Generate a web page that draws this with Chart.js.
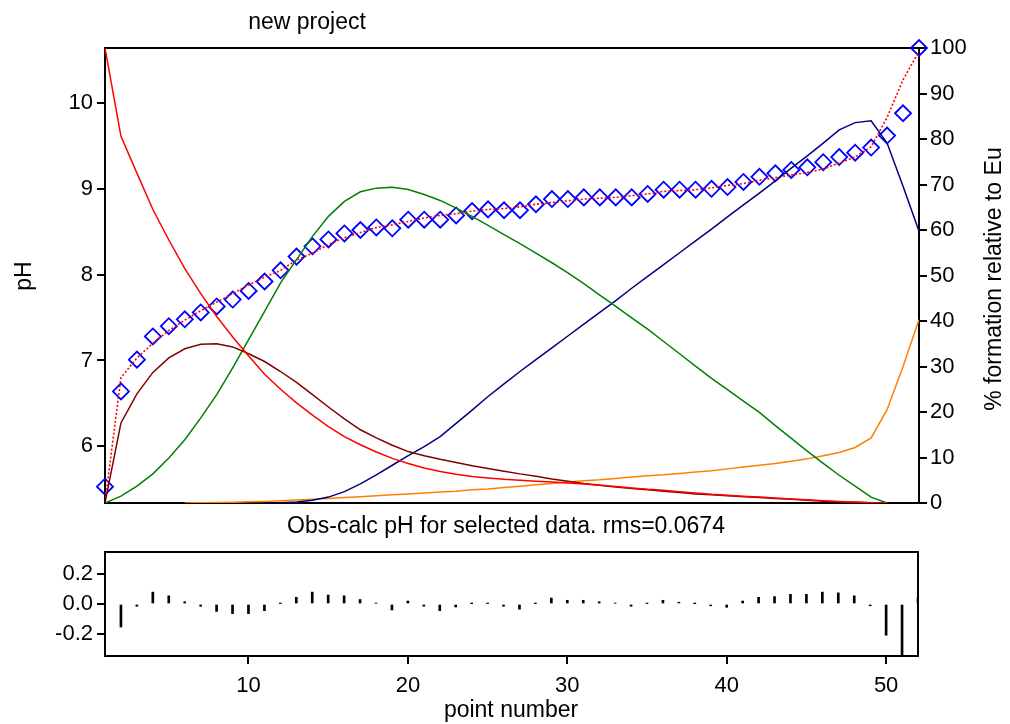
<!DOCTYPE html>
<html>
<head>
<meta charset="utf-8">
<title>new project</title>
<script src="https://cdn.jsdelivr.net/npm/chart.js@4.4.1/dist/chart.umd.min.js"></script>
<style>
  html, body { margin: 0; padding: 0; background: #ffffff; }
  #wrap { position: relative; width: 1010px; height: 724px; overflow: hidden; }
  #wrap canvas { position: absolute; left: 0; top: 0; }
</style>
</head>
<body>
<div id="wrap">
  <canvas id="speciation" width="1010" height="724"></canvas>
  <canvas id="residuals" width="1010" height="724"></canvas>
</div>
<script>
// Titration point numbers
const pointNumber = [1,2,3,4,5,6,7,8,9,10,11,12,13,14,15,16,17,18,19,20,21,22,23,24,25,26,
                     27,28,29,30,31,32,33,34,35,36,37,38,39,40,41,42,43,44,45,46,47,48,49,50,51,52];

// Observed pH (diamonds)
const pHObserved = [5.53,6.64,7.01,7.28,7.40,7.48,7.56,7.63,7.71,7.81,7.92,8.05,8.21,8.33,8.41,8.48,
                    8.52,8.55,8.54,8.64,8.64,8.64,8.69,8.74,8.76,8.75,8.75,8.82,8.88,8.88,8.90,8.90,
                    8.90,8.90,8.94,8.99,8.99,8.99,9.00,9.02,9.08,9.14,9.18,9.22,9.25,9.31,9.37,9.42,
                    9.48,9.62,9.88,10.64];

// Calculated pH (dotted red curve)
const pHCalculated = [5.35,6.80,7.03,7.20,7.35,7.47,7.58,7.68,7.78,7.88,7.97,8.05,8.17,8.25,8.35,8.43,
                      8.49,8.55,8.58,8.62,8.66,8.69,8.71,8.74,8.76,8.77,8.79,8.82,8.84,8.86,8.88,8.89,
                      8.90,8.92,8.94,8.97,8.98,8.99,9.01,9.04,9.06,9.10,9.13,9.16,9.19,9.23,9.30,9.37,
                      9.49,9.83,10.27,10.60];

// % formation relative to Eu for each species
const pctFree = [100,80.6,72.5,64.5,57.8,51.5,46.0,41.0,36.5,32.3,28.3,25.0,22.0,19.3,16.8,14.6,
                 12.8,11.2,9.8,8.7,7.7,6.9,6.3,5.8,5.5,5.2,5.0,4.8,4.6,4.4,4.2,3.9,3.6,3.3,3.0,
                 2.8,2.5,2.2,1.9,1.7,1.5,1.3,1.1,0.9,0.7,0.5,0.35,0.2,0.05,0,null,null];
const pctSpecies1 = [0,17.6,24.0,28.7,31.9,33.9,34.9,35.0,34.3,32.8,31.1,28.9,26.5,23.8,21.1,18.5,
                     16.1,14.3,12.7,11.3,10.4,9.6,8.9,8.2,7.6,7.0,6.4,5.9,5.3,4.8,4.3,3.9,3.5,3.2,
                     2.9,2.6,2.3,2.0,1.8,1.6,1.4,1.2,1.0,0.8,0.6,0.4,0.3,0.15,0.05,0,null,null];
const pctSpecies2 = [0,1.5,3.7,6.4,9.9,13.9,18.7,23.8,29.7,35.9,42.1,48.4,53.5,58.6,63.0,66.3,68.4,
                     69.2,69.4,68.9,67.8,66.5,64.8,63.0,61.0,59.0,57.0,54.9,52.8,50.6,48.2,45.7,43.2,
                     40.7,38.2,35.5,32.8,30.1,27.4,24.9,22.4,19.9,17.0,14.2,11.4,8.7,6.1,3.7,1.3,0,
                     null,null];
const pctSpecies3 = [null,null,null,null,null,null,null,null,null,null,0.02,0.05,0.2,0.6,1.3,2.5,
                     4.2,6.2,8.3,10.4,12.4,14.6,17.5,20.4,23.4,26.2,28.9,31.5,34.1,36.7,39.3,41.9,
                     44.5,47.2,49.8,52.4,55.0,57.6,60.2,62.9,65.5,68.1,70.8,73.6,76.3,79.1,82.0,83.6,
                     84.0,79.1,69.6,59.7];
const pctSpecies4 = [null,null,null,null,null,0.02,0.05,0.1,0.15,0.25,0.35,0.5,0.65,0.8,1.0,1.2,
                     1.4,1.6,1.8,2.0,2.2,2.4,2.6,2.9,3.1,3.4,3.7,4.0,4.3,4.6,4.9,5.1,5.4,5.7,6.0,
                     6.2,6.5,6.8,7.1,7.5,7.9,8.3,8.7,9.2,9.7,10.4,11.1,12.2,14.3,20.5,30.0,40.3];

// Obs - calc pH residuals for the selected points (2..52)
const residPoint = [2,3,4,5,6,7,8,9,10,11,12,13,14,15,16,17,18,19,20,21,22,23,24,25,26,27,
                    28,29,30,31,32,33,34,35,36,37,38,39,40,41,42,43,44,45,46,47,48,49,50,51,52];
const residValue = [-0.155,-0.015,0.08,0.055,0.015,-0.015,-0.05,-0.065,-0.065,-0.045,0.003,0.045,
                    0.08,0.06,0.055,0.03,0.005,-0.04,0.02,-0.015,-0.045,-0.02,0.002,0.003,-0.015,
                    -0.035,0.002,0.04,0.025,0.025,0.015,0.005,-0.015,0.003,0.025,0.012,0.002,-0.012,
                    -0.022,0.02,0.045,0.05,0.065,0.065,0.08,0.075,0.055,-0.012,-0.21,-0.39,0.04];

// Axis ticks
const pHTicks = [6,7,8,9,10];
const pctTicks = [0,10,20,30,40,50,60,70,80,90,100];
const residTicks = [-0.2,0,0.2];
const pointTicks = [10,20,30,40,50];

const FONT = '"Liberation Sans", Arial, Helvetica, sans-serif';
const tickFont = { family: FONT, size: 22 };

function xy(xs, ys) {
  return xs.map((x, i) => ({ x: x, y: ys[i] }));
}
function fixedTicks(list) {
  return function (scale) { scale.ticks = list.map(v => ({ value: v })); };
}

// Black frame round the plotting area, under the data
const framePlugin = {
  id: 'frame',
  beforeDatasetsDraw(chart) {
    const a = chart.chartArea;
    const ctx = chart.ctx;
    ctx.save();
    ctx.strokeStyle = '#000';
    ctx.lineWidth = 2;
    ctx.strokeRect(a.left, a.top, a.right - a.left, a.bottom - a.top);
    ctx.restore();
  }
};

// Free-standing captions: [text, x, y, rotation]
function captionPlugin(items) {
  return {
    id: 'captions',
    afterDraw(chart) {
      const ctx = chart.ctx;
      ctx.save();
      ctx.fillStyle = '#000';
      ctx.font = '23px ' + FONT;
      ctx.textAlign = 'center';
      ctx.textBaseline = 'middle';
      items.forEach(([text, x, y, rot]) => {
        ctx.save();
        ctx.translate(x, y);
        if (rot) ctx.rotate(rot);
        ctx.fillText(text, 0, 0);
        ctx.restore();
      });
      ctx.restore();
    }
  };
}

const tickGrid = { drawOnChartArea: false, color: '#000', lineWidth: 2, tickLength: 8 };

new Chart(document.getElementById('speciation'), {
  type: 'line',
  data: {
    datasets: [
      { data: xy(pointNumber, pctFree), borderColor: '#ff0000', yAxisID: 'yPct' },
      { data: xy(pointNumber, pctSpecies1), borderColor: '#800000', yAxisID: 'yPct' },
      { data: xy(pointNumber, pctSpecies2), borderColor: '#008000', yAxisID: 'yPct' },
      { data: xy(pointNumber, pctSpecies3), borderColor: '#000080', yAxisID: 'yPct' },
      { data: xy(pointNumber, pctSpecies4), borderColor: '#ff8000', yAxisID: 'yPct' },
      { data: xy(pointNumber, pHCalculated), borderColor: '#ff0000', borderDash: [2, 2],
        borderWidth: 1.6, yAxisID: 'yPH' },
      { data: xy(pointNumber, pHObserved), showLine: false, yAxisID: 'yPH', clip: false,
        pointStyle: 'rectRot', pointRadius: 8, pointBorderWidth: 1.8,
        pointBorderColor: '#0000ff', pointBackgroundColor: 'rgba(0,0,0,0)' }
    ]
  },
  options: {
    responsive: false,
    animation: false,
    devicePixelRatio: 1,
    layout: { padding: { top: 48, left: 0, right: 0, bottom: 0 } },
    elements: {
      line: { borderWidth: 1.5, tension: 0, fill: false },
      point: { radius: 0, hoverRadius: 0 }
    },
    plugins: { legend: { display: false }, tooltip: { enabled: false }, title: { display: false } },
    scales: {
      x: {
        type: 'linear', min: 1, max: 52,
        ticks: { display: false },
        grid: { display: false },
        border: { display: false },
        afterFit(s) { s.height = 221; }
      },
      yPH: {
        type: 'linear', position: 'left', min: 5.34, max: 10.64,
        afterBuildTicks: fixedTicks(pHTicks),
        ticks: { color: '#000', font: tickFont, padding: 4, callback: v => String(v) },
        grid: tickGrid,
        border: { display: false },
        afterFit(s) { s.width = 105; }
      },
      yPct: {
        type: 'linear', position: 'right', min: 0, max: 100,
        afterBuildTicks: fixedTicks(pctTicks),
        ticks: { color: '#000', font: tickFont, padding: 3, callback: v => String(v) },
        grid: tickGrid,
        border: { display: false },
        afterFit(s) { s.width = 91; }
      }
    }
  },
  plugins: [framePlugin, captionPlugin([
    ['new project', 307, 23, 0],
    ['pH', 25, 276, -Math.PI / 2],
    ['% formation relative to Eu', 995, 279, -Math.PI / 2],
    ['Obs-calc pH for selected data. rms=0.0674', 506, 527, 0]
  ])]
});

new Chart(document.getElementById('residuals'), {
  type: 'bar',
  data: {
    datasets: [
      { data: xy(residPoint, residValue), backgroundColor: '#000', borderWidth: 0,
        barThickness: 2 }
    ]
  },
  options: {
    responsive: false,
    animation: false,
    devicePixelRatio: 1,
    layout: { padding: { top: 552, left: 0, right: 92, bottom: 0 } },
    plugins: { legend: { display: false }, tooltip: { enabled: false }, title: { display: false } },
    scales: {
      x: {
        type: 'linear', min: 1, max: 52, offset: false,
        afterBuildTicks: fixedTicks(pointTicks),
        ticks: { color: '#000', font: tickFont, padding: 9, maxRotation: 0, callback: v => String(v) },
        grid: Object.assign({ offset: false }, tickGrid),
        border: { display: false },
        afterFit(s) { s.height = 68; }
      },
      y: {
        type: 'linear', position: 'left', min: -0.35, max: 0.35,
        afterBuildTicks: fixedTicks(residTicks),
        ticks: { color: '#000', font: tickFont, padding: 4, callback: v => v.toFixed(1) },
        grid: tickGrid,
        border: { display: false },
        afterFit(s) { s.width = 105; }
      }
    }
  },
  plugins: [framePlugin, captionPlugin([
    ['point number', 511, 711, 0]
  ])]
});
</script>
</body>
</html>
